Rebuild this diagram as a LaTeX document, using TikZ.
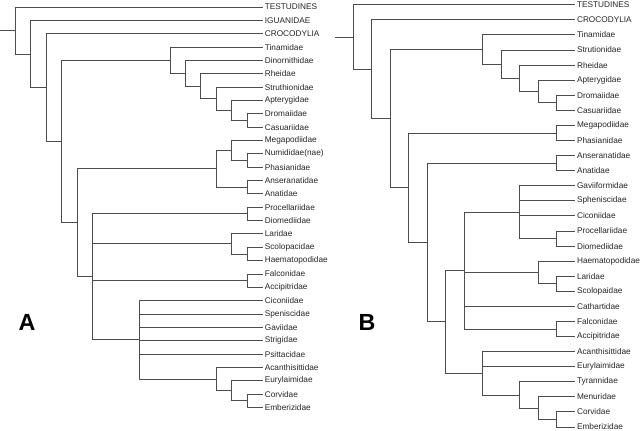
\documentclass[tikz,border=0pt]{standalone}
\usepackage{fontspec}
\setmainfont{Liberation Sans}
\begin{document}
\begin{tikzpicture}[x=0.75pt,y=-0.75pt,
  branch/.style={draw=black!70, line width=0.7pt, line cap=rect},
  leaf/.style={anchor=west, inner sep=1.4pt, font=\fontsize{6.2pt}{7pt}\selectfont, text=black!85},
  panel/.style={font=\fontsize{17.5pt}{20pt}\selectfont\bfseries}]
\useasboundingbox (0,0) rectangle (640,431);
% ---------------- Tree A ----------------
\foreach \i/\t in {0/TESTUDINES,1/IGUANIDAE,2/CROCODYLIA,3/Tinamidae,4/Dinornithidae,5/Rheidae,6/Struthionidae,7/Apterygidae,8/Dromaiidae,9/Casuariidae,10/Megapodiidae,11/Numididae(nae),12/Phasianidae,13/Anseranatidae,14/Anatidae,15/Procellariidae,16/Diomediidae,17/Laridae,18/Scolopacidae,19/Haematopodidae,20/Falconidae,21/Accipitridae,22/Ciconiidae,23/Speniscidae,24/Gaviidae,25/Strigidae,26/Psittacidae,27/Acanthisittidae,28/Eurylaimidae,29/Corvidae,30/Emberizidae}{
  \coordinate (a\i) at (262.7,{7+13.35*\i});
  \node[leaf] (la\i) at (a\i) {\t};
}
\coordinate (aS) at (0,30.49);
\coordinate (aR) at (15.5,30.49);
\coordinate (aN1) at (30.95,53.99);
\coordinate (aN2) at (46.4,87.62);
\coordinate (aN3) at (61.85,141.54);
\coordinate (aN4) at (77.3,222.9);
\coordinate (aN5) at (92.75,276.92);
\coordinate (aN6) at (139.1,339.92);
\coordinate (aR1) at (170.0,60.19);
\coordinate (aR2) at (185.45,73.33);
\coordinate (aR3) at (200.9,86.27);
\coordinate (aR4) at (216.35,98.78);
\coordinate (aR5) at (231.8,110.46);
\coordinate (aR6) at (247.25,120.48);
\coordinate (aG1) at (216.35,168.87);
\coordinate (aG2) at (231.8,150.51);
\coordinate (aG3) at (247.25,160.53);
\coordinate (aG4) at (247.25,187.23);
\coordinate (aP) at (247.25,213.93);
\coordinate (aC) at (231.8,243.96);
\coordinate (aC2) at (247.25,253.98);
\coordinate (aF) at (247.25,280.68);
\coordinate (aPa) at (216.35,379.13);
\coordinate (aPb) at (231.8,390.81);
\coordinate (aPc) at (247.25,400.83);
\draw[branch] (aS) -- (aR);
\foreach \p/\c in {aR/a0,aR/aN1,aN1/a1,aN1/aN2,aN2/a2,aN2/aN3,aN3/aR1,aN3/aN4,
  aR1/a3,aR1/aR2,aR2/a4,aR2/aR3,aR3/a5,aR3/aR4,aR4/a6,aR4/aR5,aR5/a7,aR5/aR6,aR6/a8,aR6/a9,
  aN4/aG1,aN4/aN5,aG1/aG2,aG1/aG4,aG2/a10,aG2/aG3,aG3/a11,aG3/a12,aG4/a13,aG4/a14,
  aN5/aP,aN5/aC,aN5/aF,aN5/aN6,aP/a15,aP/a16,aC/a17,aC/aC2,aC2/a18,aC2/a19,aF/a20,aF/a21,
  aN6/a22,aN6/a23,aN6/a24,aN6/a25,aN6/a26,aN6/aPa,aPa/a27,aPa/aPb,aPb/a28,aPb/aPc,aPc/a29,aPc/a30}{
  \draw[branch] (\p) |- (\c);
}
\node[panel] (labA) at (27,322) {A};
% ---------------- Tree B ----------------
\foreach \i/\t in {0/TESTUDINES,1/CROCODYLIA,2/Tinamidae,3/Strutionidae,4/Rheidae,5/Apterygidae,6/Dromaiidae,7/Casuariidae,8/Megapodiidae,9/Phasianidae,10/Anseranatidae,11/Anatidae,12/Gaviiformidae,13/Spheniscidae,14/Ciconiidae,15/Procellariidae,16/Diomediidae,17/Haematopodidae,18/Laridae,19/Scolopaidae,20/Cathartidae,21/Falconidae,22/Accipitridae,23/Acanthisittidae,24/Eurylaimidae,25/Tyrannidae,26/Menuridae,27/Corvidae,28/Emberizidae}{
  \coordinate (b\i) at (574.9,{4.8+15.08*\i});
  \node[leaf] (lb\i) at (b\i) {\t};
}
\coordinate (bS) at (335,37.04);
\coordinate (bR) at (353.3,37.04);
\coordinate (bN1) at (371.77,69.28);
\coordinate (bN2) at (390.24,118.67);
\coordinate (bN3) at (408.71,187.77);
\coordinate (bN4) at (427.18,242.55);
\coordinate (bN5) at (445.65,321.95);
\coordinate (bN6) at (464.12,270.59);
\coordinate (bN7) at (482.59,373.32);
\coordinate (bR1) at (482.59,49.57);
\coordinate (bR2) at (501.06,64.18);
\coordinate (bR3) at (519.53,78.32);
\coordinate (bR4) at (538.0,91.51);
\coordinate (bR5) at (556.47,102.82);
\coordinate (bGal) at (556.47,132.98);
\coordinate (bAns) at (556.47,163.14);
\coordinate (bW) at (519.53,212.15);
\coordinate (bPro) at (556.47,238.54);
\coordinate (bH) at (538.0,272.47);
\coordinate (bLS) at (556.47,283.78);
\coordinate (bFa) at (556.47,329.02);
\coordinate (bT) at (519.53,395.0);
\coordinate (bM) at (538.0,408.19);
\coordinate (bCE) at (556.47,419.5);
\draw[branch] (bS) -- (bR);
\foreach \p/\c in {bR/b0,bR/bN1,bN1/b1,bN1/bN2,bN2/bR1,bN2/bN3,
  bR1/b2,bR1/bR2,bR2/b3,bR2/bR3,bR3/b4,bR3/bR4,bR4/b5,bR4/bR5,bR5/b6,bR5/b7,
  bN3/bGal,bN3/bN4,bGal/b8,bGal/b9,bN4/bAns,bN4/bN5,bAns/b10,bAns/b11,
  bN5/bN6,bN5/bN7,bN6/bW,bN6/bH,bN6/b20,bN6/bFa,
  bW/b12,bW/b13,bW/b14,bW/bPro,bPro/b15,bPro/b16,bH/b17,bH/bLS,bLS/b18,bLS/b19,bFa/b21,bFa/b22,
  bN7/b23,bN7/b24,bN7/bT,bT/b25,bT/bM,bM/b26,bM/bCE,bCE/b27,bCE/b28}{
  \draw[branch] (\p) |- (\c);
}
\node[panel] (labB) at (367,322) {B};
\end{tikzpicture}
\end{document}
